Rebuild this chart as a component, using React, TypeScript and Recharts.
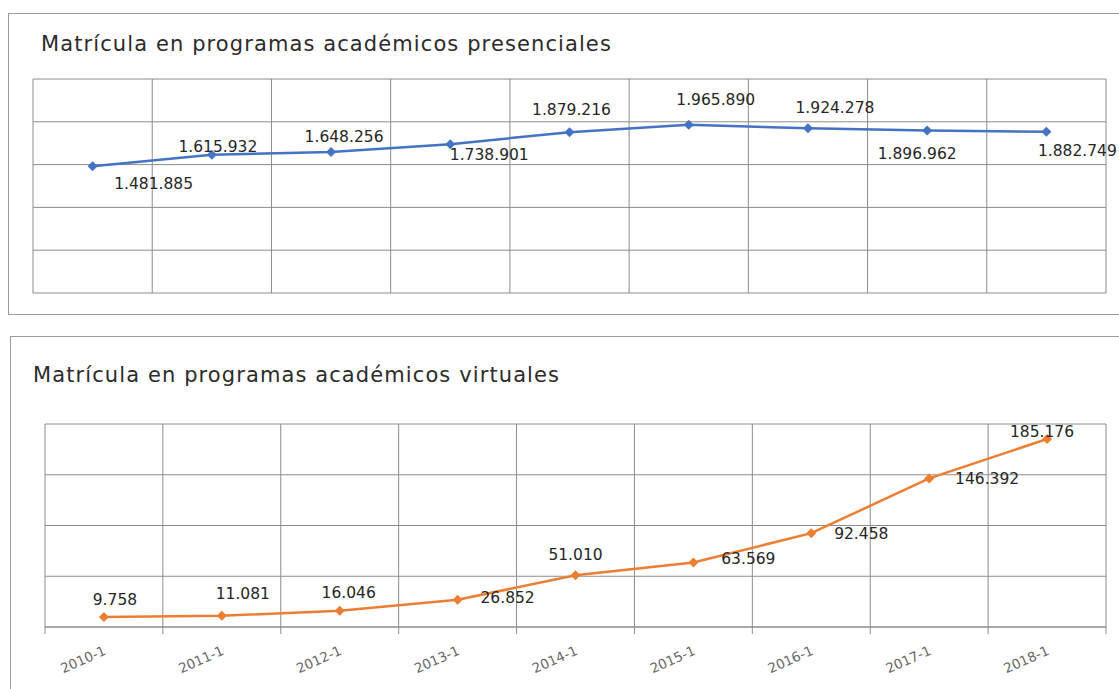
import React from 'react';
import { LineChart, Line, XAxis, YAxis, CartesianGrid, LabelList } from 'recharts';

// Periodos académicos
const PERIODOS = ['2010-1', '2011-1', '2012-1', '2013-1', '2014-1', '2015-1', '2016-1', '2017-1', '2018-1'];

// Matrícula presencial
const PRESENCIAL = [1481885, 1615932, 1648256, 1738901, 1879216, 1965890, 1924278, 1896962, 1882749];

// Matrícula virtual
const VIRTUAL = [9758, 11081, 16046, 26852, 51010, 63569, 92458, 146392, 185176];

const PRESENCIAL_TICKS = [0, 500000, 1000000, 1500000, 2000000, 2500000];
const VIRTUAL_TICKS = [0, 50000, 100000, 150000, 200000];

// label nudges (dx, dy) per point, copied from the original layout
const PRESENCIAL_LABEL_POS = [[61, 18], [6, -8], [13, -15], [39, 11], [2, -22], [27, -25], [27, -20], [-10, 23], [31, 19]];
const VIRTUAL_LABEL_POS = [[11, -17], [21, -22], [9, -18], [50, -2], [0, -20], [55, -3], [50, 1], [58, 1], [-5, -7]];

const BLUE = '#4472C4';
const ORANGE = '#ED7D31';
const GRID = '#8c8c8c';
const FONT = '"DejaVu Sans", sans-serif';

const dataPresencial = PERIODOS.map((p, i) => ({ periodo: p, valor: PRESENCIAL[i] }));
const dataVirtual = PERIODOS.map((p, i) => ({ periodo: p, valor: VIRTUAL[i] }));

const formatMiles = (v: number) => String(v).replace(/\B(?=(\d{3})+(?!\d))/g, '.');

const diamond = (color: string) => (props: any) => {
  const { cx, cy, index } = props;
  if (cx == null || cy == null) return <g key={`d-${index}`} />;
  const r = 5;
  return (
    <path
      key={`d-${index}`}
      d={`M${cx},${cy - r}L${cx + r},${cy}L${cx},${cy + r}L${cx - r},${cy}Z`}
      fill={color}
    />
  );
};

const makeLabel = (pos: number[][]) => (props: any) => {
  const { x, y, value, index } = props;
  const [dx, dy] = pos[index] || [0, -12];
  return (
    <text
      key={`l-${index}`}
      x={x + dx}
      y={y + dy}
      textAnchor="middle"
      dominantBaseline="central"
      fontFamily={FONT}
      fontSize={15.5}
      fill="#262626"
    >
      {formatMiles(value)}
    </text>
  );
};

// vertical grid on category boundaries, like Excel
const boundaryLines = ({ offset }: any) =>
  Array.from({ length: PERIODOS.length + 1 }, (_, i) => offset.left + (i * offset.width) / PERIODOS.length);

const BAND = (1106 - 45) / PERIODOS.length;

const PeriodoTick = (props: any) => {
  const { x, y, payload, index } = props;
  const axisY = y - 10;
  return (
    <g>
      <line x1={x - BAND / 2} x2={x - BAND / 2} y1={axisY} y2={axisY + 7} stroke={GRID} />
      {index === PERIODOS.length - 1 && (
        <line x1={x + BAND / 2} x2={x + BAND / 2} y1={axisY} y2={axisY + 7} stroke={GRID} />
      )}
      <text
        x={x + 3}
        y={y + 17}
        transform={`rotate(-24, ${x + 3}, ${y + 17})`}
        textAnchor="end"
        fontFamily={FONT}
        fontSize={13.5}
        fill="#666"
      >
        {payload.value}
      </text>
    </g>
  );
};

const titleStyle: React.CSSProperties = {
  position: 'absolute',
  fontFamily: FONT,
  fontSize: 21,
  letterSpacing: 1.1,
  color: '#2b2b2b',
  whiteSpace: 'nowrap',
};

const boxStyle: React.CSSProperties = {
  position: 'absolute',
  border: '1px solid #9a9a9a',
  boxSizing: 'border-box',
  background: '#fff',
};

export default function App() {
  return (
    <div style={{ position: 'absolute', left: 0, top: 0, width: 1119, height: 689, overflow: 'hidden', background: '#fff' }}>
      <div style={{ ...boxStyle, left: 8, top: 13, width: 1130, height: 302 }} />
      <div style={{ ...boxStyle, left: 10, top: 336, width: 1130, height: 400 }} />

      <div style={{ ...titleStyle, left: 41, top: 32 }}>Matrícula en programas académicos presenciales</div>
      <div style={{ ...titleStyle, left: 33, top: 363 }}>Matrícula en programas académicos virtuales</div>

      <div style={{ position: 'absolute', left: 0, top: 0 }}>
        <LineChart width={1119} height={320} data={dataPresencial} margin={{ top: 79, right: 13, bottom: 27, left: 33 }}>
          <CartesianGrid stroke={GRID} verticalCoordinatesGenerator={boundaryLines} />
          <XAxis dataKey="periodo" scale="band" hide />
          <YAxis domain={[0, 2500000]} ticks={PRESENCIAL_TICKS} hide />
          <Line
            dataKey="valor"
            stroke={BLUE}
            strokeWidth={2.5}
            dot={diamond(BLUE)}
            activeDot={false}
            isAnimationActive={false}
          >
            <LabelList dataKey="valor" content={makeLabel(PRESENCIAL_LABEL_POS)} />
          </Line>
        </LineChart>
      </div>

      <div style={{ position: 'absolute', left: 0, top: 330 }}>
        <LineChart width={1119} height={359} data={dataVirtual} margin={{ top: 94, right: 13, bottom: 8, left: 45 }}>
          <CartesianGrid stroke={GRID} verticalCoordinatesGenerator={boundaryLines} />
          <XAxis
            dataKey="periodo"
            scale="band"
            height={54}
            axisLine={{ stroke: GRID }}
            tickLine={false}
            tickSize={7}
            tickMargin={3}
            interval={0}
            tick={<PeriodoTick />}
          />
          <YAxis domain={[0, 200000]} ticks={VIRTUAL_TICKS} hide />
          <Line
            dataKey="valor"
            stroke={ORANGE}
            strokeWidth={2.5}
            dot={diamond(ORANGE)}
            activeDot={false}
            isAnimationActive={false}
          >
            <LabelList dataKey="valor" content={makeLabel(VIRTUAL_LABEL_POS)} />
          </Line>
        </LineChart>
      </div>
    </div>
  );
}
